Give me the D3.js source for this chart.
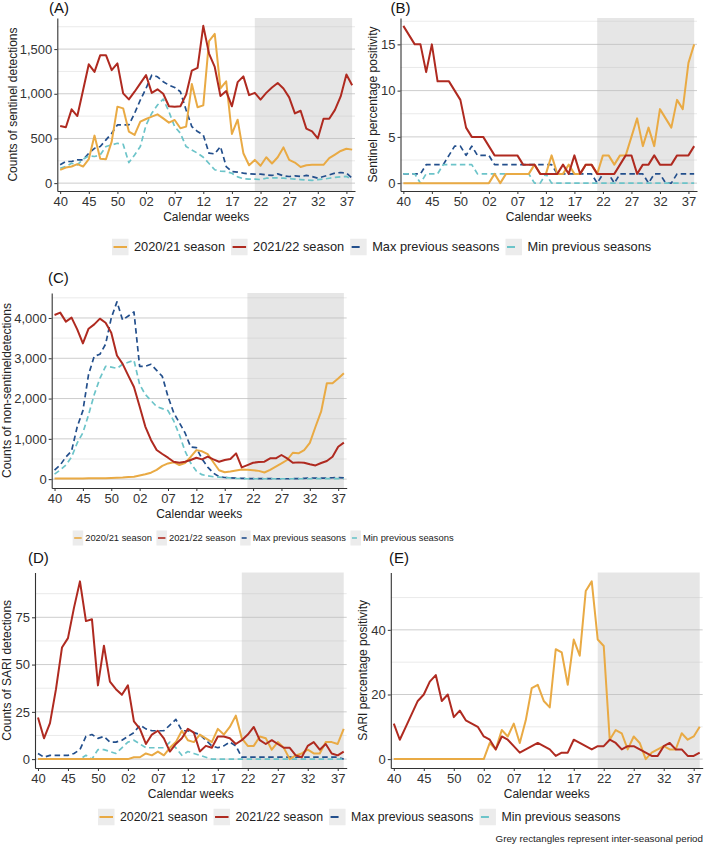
<!DOCTYPE html>
<html>
<head>
<meta charset="utf-8">
<script src="https://cdn.jsdelivr.net/npm/d3@7"></script>
<style>
  body { margin: 0; background: #fff; }
  svg { display: block; font-family: "Liberation Sans", Arial, Helvetica, sans-serif; }
</style>
</head>
<body>
<svg id="chart" width="709" height="846"></svg>
<script>
// ---------------- DATA ----------------
const weeks = [40,41,42,43,44,45,46,47,48,49,50,51,52,53,1,2,3,4,5,6,7,8,9,10,11,12,13,14,15,16,17,18,19,20,21,22,23,24,25,26,27,28,29,30,31,32,33,34,35,36,37,38];
const tickLabels = ["40","45","50","02","07","12","17","22","27","32","37"];
const seriesNames = ["2020/21 season","2021/22 season","Max previous seasons","Min previous seasons"];
const shadeFromWeek = 21;

// (A) Counts of sentinel detections
const a2020 = [149,175,186,212,186,268,532,272,268,465, 856,837,577,540,688,718,744,770,725,677, 707,614,632,1110,850,870,1590,1670,1060,1140, 550,710,335,200,260,195,290,220,290,400, 260,230,180,200,205,205,205,280,320,360, 385,375];
const a2021 = [640,625,826,751,1040,1330,1245,1432,1432,1265, 1340,1005,937,1023,1116,1209,1010,1050,1000,860, 855,860,990,1260,1290,1760,1450,1300,975,1030, 860,1130,1195,985,1010,935,1010,1070,1120,1060, 960,780,810,610,580,500,720,720,820,970, 1215,1095];
const aMax = [205,242,242,260,260,335,390,410,484,558, 651,651,651,781,930,1060,1209,1190,1135,1097, 1071,1023,818,632,577,540,335,327,410,186, 130,123,112,104,100,100,93,86,104,82, 74,82,74,86,74,56,74,93,112,119, 112,56];
const aMin = [167,186,223,205,268,305,298,316,410,428, 446,435,230,316,409,650,781,874,941,800, 632,558,409,372,335,290,220,150,135,130, 110,70,50,45,45,40,55,60,60,55, 50,45,40,35,30,40,45,55,65,70, 75,40];

// (B) Sentinel percentage positivity
const b2020 = [0,0,0,0,0,0,0,0,0,0, 0,0,0,0,0,0,1,0,1,1, 1,1,1,2,1,1,3,1,1,2, 1,1,2,2,1,3,3,2,3,3, 5,7,4,6,4,8,7,6,9,8, 13,15];
const b2021 = [17,16,15,15,12,15,11,11,11,10, 9,6,5,5,5,4,3,3,3,3, 3,2,2,2,1,1,1,1,2,1, 3,1,2,2,1,1,1,1,2,3, 3,1,2,2,3,2,2,2,3,3, 3,4];
const bMax = [1,1,1,1,2,2,2,2,3,4, 4,3,4,3,3,3,2,2,2,2, 2,2,2,2,2,2,2,1,1,1, 1,1,1,1,0,1,1,0,1,1, 1,1,1,0,1,1,0,0,1,1, 1,1];
const bMin = [1,1,1,0,1,1,1,2,2,2, 2,2,2,1,1,1,1,1,1,1, 1,1,1,0,0,1,0,0,0,0, 0,0,0,0,0,0,0,0,0,0, 0,0,0,0,0,0,0,0,0,0, 0,0];

// (C) Counts of non-sentinel detections
const c2020 = [15,15,15,15,15,15,20,20,25,25, 30,35,40,50,60,90,120,160,230,330, 390,420,350,400,550,720,690,620,420,220, 170,190,215,240,230,220,205,165,230,310, 390,475,655,640,720,900,1300,1680,2380,2380, 2500,2630];
const c2021 = [4075,4133,3909,4008,3717,3368,3734,3842,3983,3883, 3634,3069,2861,2570,2287,1805,1306,973,724,624, 532,432,407,432,474,532,491,557,491,432, 474,499,640,291,349,407,424,432,516,516, 599,516,407,416,407,370,340,400,450,556, 805,905];
const cMax = [225,350,550,700,1300,1700,2600,3050,3100,3350, 4000,4400,3950,4050,4150,2800,2800,2850,2700,2550, 2050,1650,1400,1150,800,780,500,300,150,60, 40,30,25,20,15,15,15,10,15,10, 10,10,10,15,20,30,25,25,25,35, 40,30];
const cMin = [125,225,350,550,900,1150,1600,2100,2500,2800, 2780,2750,2850,2900,2950,2350,2100,1950,1800,1750, 1700,1450,1100,700,400,200,110,80,60,50, 40,30,20,15,10,10,10,10,10,10, 10,10,10,10,10,10,15,15,15,15, 15,10];

// (D) Counts of SARI detections
const d2020 = [0,0,0,0,0,0,0,0,0,0, 0,0,0,0,0,0,1,1,3,2, 4,2,6,9,15,10,9,13,11,9, 16,13,17,23,11,7,7,12,11,5, 9,6,0,2,3,5,3,3,9,9, 8,16];
const d2021 = [22,11,19,37,59,64,80,94,73,74, 39,60,41,37,34,39,20,16,8,13, 15,11,4,8,11,16,14,4,7,6, 12,12,11,8,10,13,17,10,8,10, 8,6,6,2,1,7,9,5,8,3, 2,4];
const dMax = [3,1,2,2,2,2,3,5,12,13, 11,12,9,9,10,12,14,18,16,15, 15,15,18,21,15,15,14,13,10,7, 6,7,9,7,1,1,1,1,1,1, 1,1,1,1,1,1,1,1,1,1, 1,0];
const dMin = [0,0,0,0,0,0,0,0,2,0, 5,5,4,3,6,9,10,8,6,6, 6,6,9,6,2,4,3,2,1,0, 0,0,0,0,0,0,0,0,0,0, 0,0,0,0,0,0,0,0,0,0, 0,0];

// (E) SARI percentage positivity
const e2020 = [0,0,0,0,0,0,0,0,0,0, 0,0,0,0,0,0,5,3,9,7, 11,5,12,22,23,18,16,34,33,23, 37,32,52,55,37,35,6,9,8,3, 7,5,0,2,3,4,3,3,8,6, 7,10];
const e2021 = [11,6,10,14,18,20,24,26,18,20, 13,15,12,11,10,7,6,3,7,6, 4,2,3,4,5,4,3,1,2,2, 6,5,4,3,4,4,6,5,3,4, 4,3,2,1,1,4,5,3,3,1, 1,2];

// ---------------- STYLE ----------------
const colors = {
  "2020/21 season": "#E9AA44",
  "2021/22 season": "#AF2A20",
  "Max previous seasons": "#234F8C",
  "Min previous seasons": "#6CC4C9"
};
const isDashed = { "Max previous seasons": true, "Min previous seasons": true };
const drawOrder = ["Max previous seasons","Min previous seasons","2020/21 season","2021/22 season"];

const svg = d3.select("#chart");
const fmt2 = d3.format("02d");
const tickIdx = weeks.map((w, i) => i).filter(i => tickLabels.includes(fmt2(weeks[i])));

function panel(cfg) {
  const g = svg.append("g");
  const x = d3.scaleLinear().domain([-0.5, weeks.length - 0.5]).range([cfg.left, cfg.right]);
  const ymax = d3.max(cfg.series, s => d3.max(s.values));
  const y = d3.scaleLinear().domain([-0.05 * ymax, 1.05 * ymax]).range([cfg.bottom, cfg.top]);

  const step = cfg.yTicks[1] - cfg.yTicks[0];
  const minor = cfg.yTicks.map(t => t + step / 2).filter(v => v < y.domain()[1]);

  g.selectAll("line.minor").data(minor).join("line")
    .attr("x1", cfg.left).attr("x2", cfg.right)
    .attr("y1", d => y(d)).attr("y2", d => y(d))
    .attr("stroke", "#e4e4e4").attr("stroke-width", 0.8);
  g.selectAll("line.major").data(cfg.yTicks).join("line")
    .attr("x1", cfg.left).attr("x2", cfg.right)
    .attr("y1", d => y(d)).attr("y2", d => y(d))
    .attr("stroke", "#cdcdcd").attr("stroke-width", 1);

  const i0 = weeks.indexOf(shadeFromWeek);
  const i1 = weeks.length - 1;
  g.append("rect")
    .attr("x", x(i0)).attr("width", x(i1) - x(i0))
    .attr("y", cfg.top).attr("height", cfg.bottom - cfg.top)
    .attr("fill", "#bdbdbd").attr("fill-opacity", 0.38);

  const line = d3.line().x((d, i) => x(i)).y(d => y(d));
  drawOrder.forEach(name => {
    const s = cfg.series.find(s => s.name === name);
    if (!s) return;
    g.append("path").datum(s.values)
      .attr("d", line).attr("fill", "none")
      .attr("stroke", colors[name])
      .attr("stroke-width", isDashed[name] ? 1.7 : 2)
      .attr("stroke-linejoin", "round")
      .attr("stroke-dasharray", isDashed[name] ? "5.5,3.5" : null);
  });

  const ax = g.append("g").attr("transform", `translate(0,${cfg.bottom})`)
    .call(d3.axisBottom(x).tickValues(tickIdx).tickFormat(i => fmt2(weeks[i])).tickSize(3).tickSizeOuter(0).tickPadding(3));
  const ay = g.append("g").attr("transform", `translate(${cfg.left},0)`)
    .call(d3.axisLeft(y).tickValues(cfg.yTicks).tickFormat(d3.format(",")).tickSize(3).tickSizeOuter(0).tickPadding(2));
  [ax, ay].forEach(a => {
    a.selectAll("text").attr("font-size", 13).attr("fill", "#333").attr("font-family", "Liberation Sans, Arial, sans-serif");
    a.selectAll("line").attr("stroke", "#333");
    a.select(".domain").attr("stroke", "#333").attr("stroke-width", 1.1);
  });

  g.append("text")
    .attr("x", (cfg.left + cfg.right) / 2).attr("y", cfg.bottom + 29.5)
    .attr("text-anchor", "middle").attr("font-size", 12).attr("fill", "#222")
    .text("Calendar weeks");
  g.append("text")
    .attr("transform", `translate(${cfg.yTitleX},${(cfg.top + cfg.bottom) / 2}) rotate(-90)`)
    .attr("text-anchor", "middle").attr("dy", "0.35em")
    .attr("font-size", 12).attr("fill", "#222")
    .text(cfg.yTitle);
  g.append("text")
    .attr("x", cfg.tagX).attr("y", cfg.tagY)
    .attr("font-size", 15).attr("fill", "#111")
    .text(cfg.tag);
}

function legend(opts) {
  const g = svg.append("g");
  let cx = opts.x;
  seriesNames.forEach(name => {
    g.append("rect")
      .attr("x", cx).attr("y", opts.y - opts.kh / 2)
      .attr("width", opts.kw).attr("height", opts.kh)
      .attr("fill", "#ececec");
    g.append("line")
      .attr("x1", cx + 1.5).attr("x2", cx + opts.kw - 1.5)
      .attr("y1", opts.y).attr("y2", opts.y)
      .attr("stroke", colors[name]).attr("stroke-width", opts.lw)
      .attr("stroke-dasharray", isDashed[name] ? opts.dash : null);
    cx += opts.kw + opts.gap;
    const t = g.append("text")
      .attr("x", cx).attr("y", opts.y).attr("dy", "0.35em")
      .attr("font-size", opts.fs).attr("fill", "#222")
      .text(name);
    cx += t.node().getComputedTextLength() + opts.itemGap;
  });
}

const serA = [a2020, a2021, aMax, aMin].map((v, i) => ({ name: seriesNames[i], values: v }));
const serB = [b2020, b2021, bMax, bMin].map((v, i) => ({ name: seriesNames[i], values: v }));
const serC = [c2020, c2021, cMax, cMin].map((v, i) => ({ name: seriesNames[i], values: v }));
const serD = [d2020, d2021, dMax, dMin].map((v, i) => ({ name: seriesNames[i], values: v }));
const serE = [e2020, e2021].map((v, i) => ({ name: seriesNames[i], values: v }));

panel({ series: serA, left: 57.3, right: 355, top: 18, bottom: 191, yTicks: [0,500,1000,1500],
  yTitle: "Counts of sentinel detections", yTitleX: 12.5, tag: "(A)", tagX: 49, tagY: 13 });
panel({ series: serB, left: 400.5, right: 697, top: 18, bottom: 191, yTicks: [0,5,10,15],
  yTitle: "Sentinel percentage positivity", yTitleX: 373, tag: "(B)", tagX: 390.5, tagY: 13 });
panel({ series: serC, left: 51.7, right: 346.7, top: 293, bottom: 488, yTicks: [0,1000,2000,3000,4000],
  yTitle: "Counts of non-sentineldetections", yTitleX: 6.5, tag: "(C)", tagX: 48, tagY: 283 });
panel({ series: serD, left: 35, right: 346.7, top: 572.5, bottom: 768, yTicks: [0,25,50,75],
  yTitle: "Counts of SARI detections", yTitleX: 7, tag: "(D)", tagX: 28, tagY: 563 });
panel({ series: serE, left: 390.8, right: 702.7, top: 572.5, bottom: 768, yTicks: [0,20,40],
  yTitle: "SARI percentage positivity", yTitleX: 362.5, tag: "(E)", tagX: 389, tagY: 563 });

legend({ x: 112, y: 247, kw: 16.5, kh: 16.5, gap: 5.5, itemGap: 6, fs: 12.8, lw: 2, dash: "8,10" });
legend({ x: 72.7, y: 538, kw: 10.5, kh: 15, gap: 2, itemGap: 4.5, fs: 9.4, lw: 1.6, dash: "5,8" });
legend({ x: 98, y: 817, kw: 16.5, kh: 16.5, gap: 5.5, itemGap: 6, fs: 12.3, lw: 2, dash: "8,10" });

svg.append("text")
  .attr("x", 703).attr("y", 842)
  .attr("text-anchor", "end").attr("font-size", 9.8).attr("fill", "#222")
  .text("Grey rectangles represent inter-seasonal period");
</script>
</body>
</html>
